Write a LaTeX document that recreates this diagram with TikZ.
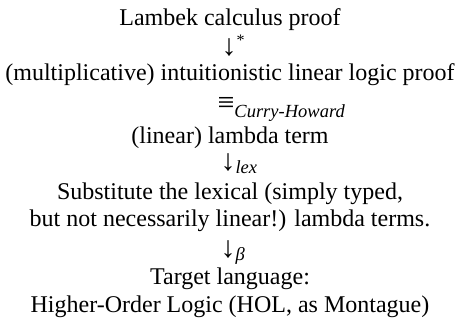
\documentclass[tikz,border=0pt]{standalone}
\usepackage{fontspec}
\setmainfont{Liberation Serif}
\begin{document}
\begin{tikzpicture}[x=1pt,y=-1pt,
  line/.style={anchor=base,inner sep=0pt,font=\fontsize{24}{29}\selectfont},
  arrowsym/.style={anchor=base,inner sep=0pt,font=\fontsize{30}{34}\selectfont}]
\newcommand\subfont{\fontsize{18.5}{20}\selectfont\itshape}
\useasboundingbox (0,0) rectangle (460,324);
\node[line] (lambek) at (230,25) {Lambek calculus proof};
\node[arrowsym] (a1) at (229,55) {↓\rlap{\raisebox{10pt}{\fontsize{16}{18}\selectfont *}}};
\node[line] (ill) at (230,80) {(multiplicative) intuitionistic linear logic proof};
\node[arrowsym] (a2) at (226,112) {≡\rlap{\raisebox{-5pt}{\subfont Curry-Howard}}};
\node[line] (lam) at (230,143) {(linear) lambda term};
\node[arrowsym] (a3) at (228,170) {↓\rlap{\raisebox{-3pt}{\subfont lex}}};
\node[line] (sub1) at (230,199) {Substitute the lexical (simply typed,};
\node[line] (sub2) at (230,226) {but not necessarily linear!) lambda terms.};
\node[arrowsym] (a4) at (228,257) {↓\rlap{\raisebox{-3pt}{\subfont β}}};
\node[line] (tgt1) at (230,284) {Target language:};
\node[line] (tgt2) at (230,312) {Higher-Order Logic (HOL, as Montague)};
\end{tikzpicture}
\end{document}
